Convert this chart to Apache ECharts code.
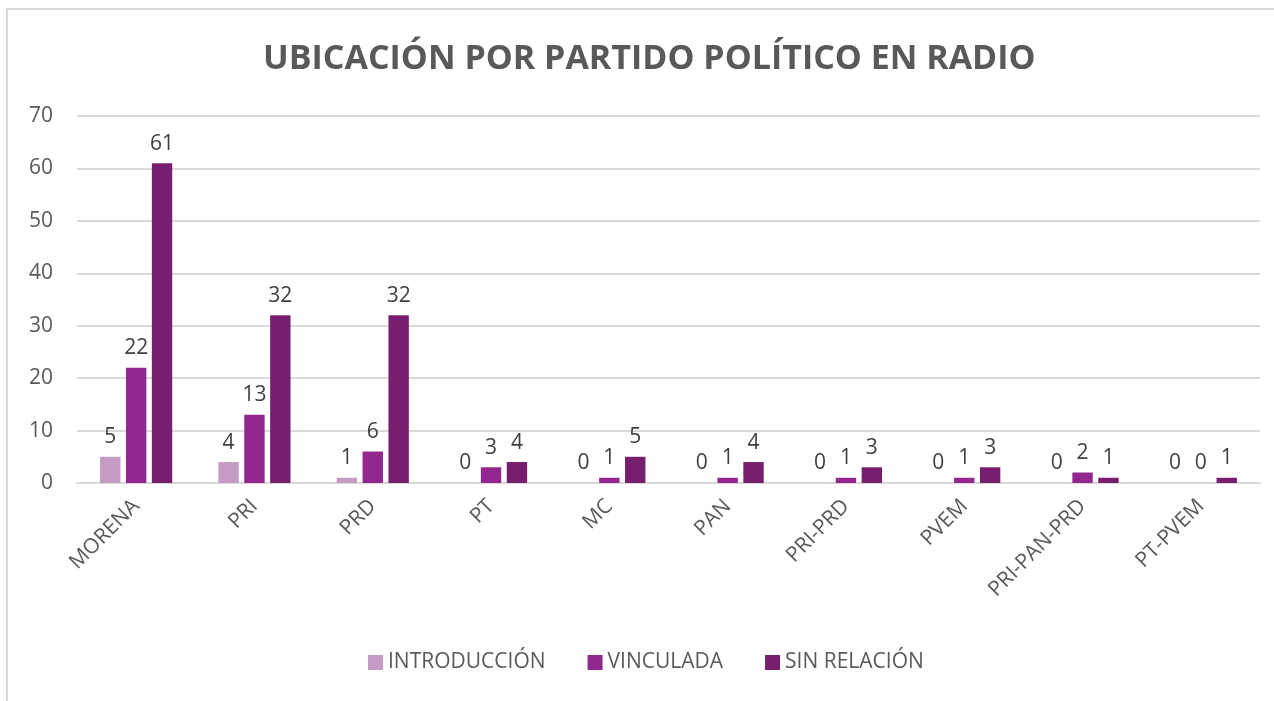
<!DOCTYPE html>
<html>
<head>
<meta charset="utf-8">
<script src="https://cdn.jsdelivr.net/npm/echarts@6/dist/echarts.min.js"></script>
<style>
  html, body { margin: 0; padding: 0; background: #fff; }
  #drew { width: 1274px; height: 701px; }
</style>
</head>
<body>
<div id="drew"></div>
<script>
   var partidos = ['MORENA', 'PRI', 'PRD', 'PT', 'MC', 'PAN', 'PRI-PRD', 'PVEM', 'PRI-PAN-PRD', 'PT-PVEM'];
   var introduccion = [5, 4, 1, 0, 0, 0, 0, 0, 0, 0];
   var vinculada = [22, 13, 6, 3, 1, 1, 1, 1, 2, 0];
   var sinRelacion = [61, 32, 32, 4, 5, 4, 3, 3, 1, 1];
   var yTicks = [0, 10, 20, 30, 40, 50, 60, 70];

   var font = '"Open Sans", "Liberation Sans", sans-serif';

   function serie(name, data, color) {
       return {
           name: name,
           type: 'bar',
           data: data,
           barGap: '27%',
           barCategoryGap: '39%',
           itemStyle: { color: color },
           label: {
               show: true,
               position: 'top',
               distance: 9,
               color: '#404040',
               fontSize: 21,
               fontFamily: font
           }
       };
   }

   var myChart = echarts.init(document.getElementById('drew'));
   var option = {
       backgroundColor: '#fff',
       animation: false,
       graphic: [{
           type: 'rect',
           shape: { x: 7, y: 9, width: 1290, height: 720 },
           style: { fill: 'none', stroke: '#D9D9D9', lineWidth: 2 },
           silent: true
       }],
       title: {
           text: 'UBICACIÓN POR PARTIDO POLÍTICO EN RADIO',
           left: 258,
           top: 37,
           textStyle: {
               color: '#595959',
               fontSize: 34,
               fontWeight: 'bold',
               fontFamily: font
           }
       },
       legend: {
           bottom: 23,
           left: 363,
           itemWidth: 15,
           itemHeight: 15,
           itemGap: 42,
           icon: 'rect',
           textStyle: { color: '#595959', fontSize: 21, fontFamily: font },
           data: ['INTRODUCCIÓN', 'VINCULADA', 'SIN RELACIÓN']
       },
       grid: { left: 77, right: 14, top: 116, bottom: 218, containLabel: false },
       xAxis: {
           type: 'category',
           data: partidos,
           axisLine: { lineStyle: { color: '#D9D9D9', width: 2 } },
           axisTick: { show: false },
           axisLabel: {
               rotate: 45,
               margin: 20,
               color: '#595959',
               fontSize: 21,
               fontFamily: font
           }
       },
       yAxis: {
           type: 'value',
           min: yTicks[0],
           max: yTicks[yTicks.length - 1],
           interval: 10,
           axisLine: { show: false },
           axisTick: { show: false },
           axisLabel: { color: '#595959', fontSize: 21, margin: 24, fontFamily: font },
           splitLine: { lineStyle: { color: '#D9D9D9', width: 2 } }
       },
       series: [
           serie('INTRODUCCIÓN', introduccion, '#C39BC3'),
           serie('VINCULADA', vinculada, '#92278F'),
           serie('SIN RELACIÓN', sinRelacion, '#771E6F')
       ]
   };
   myChart.setOption(option);
   window.addEventListener('resize', function () {
       myChart.resize();
   });
</script>
</body>
</html>
